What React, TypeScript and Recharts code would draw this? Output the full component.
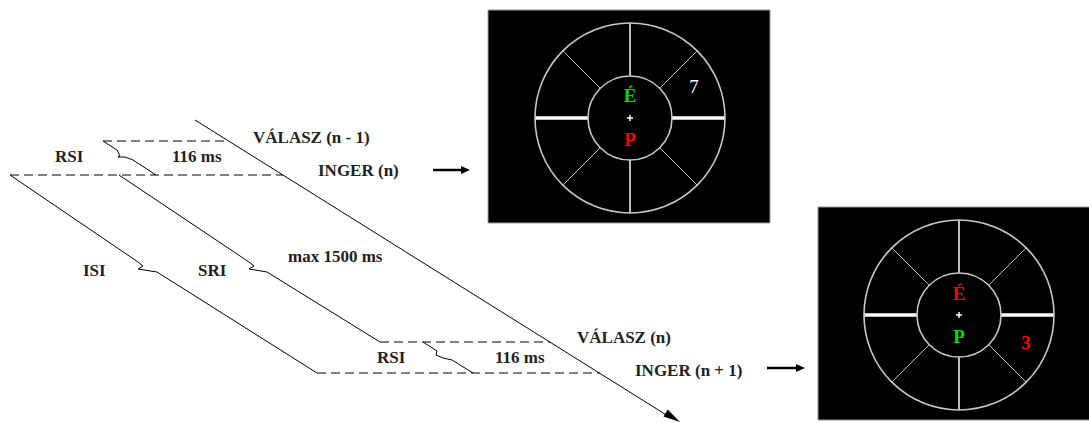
import React from 'react';
import {
  ComposedChart, XAxis, YAxis, Scatter, ReferenceArea, ReferenceLine, ReferenceDot,
} from 'recharts';

// ---------- data (diagram coordinates) ----------
const diagonalPts = [{ x: 195, y: 120 }, { x: 668, y: 416 }];
const isiPts = [
  { x: 10, y: 175 }, { x: 138, y: 262 }, { x: 143, y: 266 }, { x: 138, y: 269 },
  { x: 157, y: 272 }, { x: 317, y: 373 },
];
const sriPts = [
  { x: 119, y: 175 }, { x: 249, y: 262 }, { x: 254, y: 266 }, { x: 249, y: 269 },
  { x: 267, y: 272 }, { x: 380, y: 342 },
];
const rsi1Pts = [
  { x: 103, y: 141 }, { x: 117, y: 150 }, { x: 120, y: 156 }, { x: 118, y: 157 },
  { x: 125, y: 157 }, { x: 133, y: 160 }, { x: 156, y: 175 },
];
const rsi2Pts = [
  { x: 423, y: 342 }, { x: 437, y: 351 }, { x: 436, y: 355 }, { x: 443, y: 358 },
  { x: 452, y: 360 }, { x: 473, y: 373 },
];
const dashedSegments = [
  [{ x: 103, y: 141 }, { x: 228, y: 141 }],
  [{ x: 10, y: 175 }, { x: 283, y: 175 }],
  [{ x: 380, y: 342 }, { x: 550, y: 342 }],
  [{ x: 317, y: 373 }, { x: 600, y: 373 }],
];
const arrowShafts = [
  [{ x: 433, y: 170 }, { x: 463, y: 170 }],
  [{ x: 767, y: 368 }, { x: 798, y: 368 }],
];
const arrowHeads = [
  { x: 680, y: 422, angle: 32, len: 17, wid: 8 },
  { x: 470, y: 170, angle: 0, len: 9, wid: 8 },
  { x: 805, y: 368, angle: 0, len: 9, wid: 8 },
];

const diagramLabels = [
  { text: 'VÁLASZ (n - 1)', x: 253, y: 143 },
  { text: 'RSI', x: 55, y: 162 },
  { text: '116 ms', x: 172, y: 162 },
  { text: 'INGER (n)', x: 318, y: 176 },
  { text: 'max 1500 ms', x: 288, y: 262 },
  { text: 'ISI', x: 83, y: 276 },
  { text: 'SRI', x: 198, y: 276 },
  { text: 'VÁLASZ (n)', x: 577, y: 343 },
  { text: 'RSI', x: 377, y: 363 },
  { text: '116 ms', x: 495, y: 363 },
  { text: 'INGER (n + 1)', x: 635, y: 376 },
];

const screens = [
  { x1: 488, x2: 770, y1: 10, y2: 223, cx: 630, cy: 118, rOuter: 95, rInner: 42 },
  { x1: 818, x2: 1100, y1: 207, y2: 420, cx: 959, cy: 315, rOuter: 95, rInner: 42 },
];
const screenLabels = [
  { text: 'É', x: 630, y: 102, kind: 'green' },
  { text: 'P', x: 630, y: 146, kind: 'red' },
  { text: '7', x: 694, y: 93, kind: 'white' },
  { text: 'É', x: 959, y: 300, kind: 'red' },
  { text: 'P', x: 959, y: 343, kind: 'green' },
  { text: '3', x: 1026, y: 349, kind: 'red' },
];
const spokeAngles = [0, 45, 90, 135, 180, 225, 270, 315];

// ---------- styles ----------
const FONT = '"Liberation Serif", "Times New Roman", serif';
const LABEL_COLORS: Record<string, string> = { green: '#00dd00', red: '#ff0000', white: '#ffffff' };

const W = 1089;
const H = 423;

const DiagramText = (props: any) => {
  const { cx, cy, payload } = props;
  return (
    <text x={cx} y={cy} fill="#222" fontSize={17} fontWeight="bold" fontFamily={FONT} textAnchor="start">
      {payload.text}
    </text>
  );
};

const ScreenText = (props: any) => {
  const { cx, cy, payload } = props;
  const isSeven = payload.text === '7';
  return (
    <text
      x={cx}
      y={cy}
      fill={LABEL_COLORS[payload.kind]}
      fontSize={19}
      fontWeight={isSeven ? 'normal' : 'bold'}
      fontFamily={FONT}
      textAnchor="middle"
    >
      {payload.text}
    </text>
  );
};

const ArrowHead = (props: any) => {
  const { cx, cy, payload } = props;
  const { angle, len, wid } = payload;
  return (
    <polygon
      points={`0,0 ${-len},${-wid / 2} ${-len},${wid / 2}`}
      transform={`translate(${cx},${cy}) rotate(${angle})`}
      fill="#000"
    />
  );
};

const spokeStyle = (a: number) => {
  if (a === 0 || a === 180) return { stroke: '#ffffff', w: 3.5 };
  if (a === 90 || a === 270) return { stroke: '#eeeeee', w: 1.6 };
  return { stroke: '#b8b8b8', w: 1 };
};

const polylineSegments = (
  pts: { x: number; y: number }[],
  keyBase: string,
  stroke: string,
  width: number,
  dash?: string,
) => {
  const out: any[] = [];
  for (let i = 0; i < pts.length - 1; i++) {
    out.push(
      <ReferenceLine
        key={`${keyBase}-${i}`}
        segment={[pts[i], pts[i + 1]]}
        stroke={stroke}
        strokeWidth={width}
        strokeDasharray={dash}
        ifOverflow="visible"
      />,
    );
  }
  return out;
};

export default function App() {
  const spokes: any[] = [];
  screens.forEach((s, si) => {
    spokeAngles.forEach((a) => {
      const rad = (a * Math.PI) / 180;
      const c = Math.cos(rad);
      const sn = Math.sin(rad);
      const st = spokeStyle(a);
      spokes.push(
        <ReferenceLine
          key={`sp-${si}-${a}`}
          segment={[
            { x: s.cx + s.rInner * c, y: s.cy + s.rInner * sn },
            { x: s.cx + s.rOuter * c, y: s.cy + s.rOuter * sn },
          ]}
          stroke={st.stroke}
          strokeWidth={st.w}
          ifOverflow="visible"
        />,
      );
    });
    spokes.push(
      <ReferenceLine key={`ch-${si}`} segment={[{ x: s.cx - 3, y: s.cy }, { x: s.cx + 3, y: s.cy }]} stroke="#fff" strokeWidth={1.5} ifOverflow="visible" />,
      <ReferenceLine key={`cv-${si}`} segment={[{ x: s.cx, y: s.cy - 3 }, { x: s.cx, y: s.cy + 3 }]} stroke="#fff" strokeWidth={1.5} ifOverflow="visible" />,
    );
  });

  const solidLines = [diagonalPts, isiPts, sriPts, rsi1Pts, rsi2Pts];

  return (
    <div style={{ position: 'absolute', left: 0, top: 0, width: W, height: H, background: '#fff' }}>
      <ComposedChart width={W} height={H} margin={{ top: 0, right: 0, bottom: 0, left: 0 }}>
        <XAxis type="number" dataKey="x" domain={[0, W]} hide allowDataOverflow />
        <YAxis type="number" dataKey="y" domain={[0, H]} reversed hide allowDataOverflow />

        {screens.map((s, i) => (
          <ReferenceArea
            key={`box-${i}`}
            x1={s.x1}
            x2={s.x2}
            y1={s.y1}
            y2={s.y2}
            fill="#000"
            fillOpacity={1}
            stroke="#9a9a9a"
            strokeWidth={1}
            ifOverflow="visible"
          />
        ))}
        {screens.map((s, i) => (
          <ReferenceDot key={`co-${i}`} x={s.cx} y={s.cy} r={s.rOuter} fill="none" stroke="#c8c8c8" strokeWidth={1.6} ifOverflow="visible" />
        ))}
        {screens.map((s, i) => (
          <ReferenceDot key={`ci-${i}`} x={s.cx} y={s.cy} r={s.rInner} fill="none" stroke="#c8c8c8" strokeWidth={1.6} ifOverflow="visible" />
        ))}
        {spokes}

        {solidLines.map((pts, i) => polylineSegments(pts, `s${i}`, '#000', 1))}
        {dashedSegments.map((pts, i) => polylineSegments(pts, `d${i}`, '#000', 1, '9 5'))}
        {arrowShafts.map((pts, i) => polylineSegments(pts, `a${i}`, '#000', 2.5))}

        <Scatter data={arrowHeads} dataKey="y" shape={ArrowHead} isAnimationActive={false} />
        <Scatter data={diagramLabels} dataKey="y" shape={DiagramText} isAnimationActive={false} />
        <Scatter data={screenLabels} dataKey="y" shape={ScreenText} isAnimationActive={false} />
      </ComposedChart>
    </div>
  );
}
